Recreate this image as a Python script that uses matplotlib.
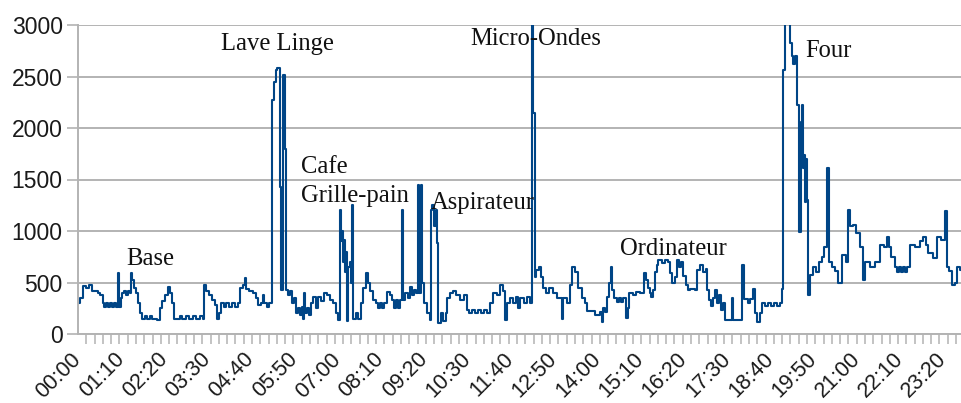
import matplotlib.pyplot as plt
from matplotlib.ticker import FixedLocator, FuncFormatter
import numpy as np

# puissance (W) relevee sur une journee, en paliers : minute du debut -> valeur
minutes = [
    0, 3, 8, 13, 18, 23, 32, 36, 40, 42, 45, 49,
    52, 55, 58, 61, 65, 66, 70, 71, 74, 78, 81, 84,
    86, 87, 91, 94, 97, 100, 104, 108, 112, 116, 120, 128,
    133, 136, 141, 146, 149, 152, 155, 165, 168, 175, 180, 186,
    191, 197, 202, 204, 207, 212, 217, 222, 225, 228, 231, 236,
    239, 244, 249, 254, 259, 262, 267, 270, 272, 277, 283, 288,
    291, 296, 299, 301, 306, 309, 314, 317, 320, 322, 326, 328,
    332, 335, 337, 340, 343, 346, 350, 353, 356, 359, 362, 364,
    366, 367, 371, 374, 377, 380, 385, 388, 393, 398, 403, 408,
    413, 417, 421, 424, 426, 427, 429, 430, 432, 434, 435, 437,
    440, 442, 443, 445, 450, 453, 458, 461, 466, 469, 472, 477,
    482, 485, 489, 492, 495, 500, 505, 508, 511, 515, 518, 521,
    524, 526, 529, 534, 537, 540, 544, 547, 550, 552, 555, 557,
    560, 565, 570, 571, 573, 576, 579, 581, 583, 587, 591, 595,
    597, 602, 607, 612, 618, 625, 629, 633, 637, 642, 647, 652,
    657, 662, 667, 671, 678, 683, 688, 691, 694, 699, 704, 709,
    712, 715, 722, 726, 731, 735, 736, 739, 741, 746, 749, 752,
    757, 762, 769, 775, 783, 785, 791, 796, 799, 804, 809, 815,
    820, 824, 837, 845, 848, 849, 853, 856, 859, 862, 864, 867,
    872, 875, 879, 882, 887, 890, 892, 898, 903, 909, 916, 919,
    922, 926, 927, 930, 934, 937, 938, 945, 950, 955, 958, 961,
    966, 969, 972, 976, 979, 984, 987, 990, 998, 1002, 1006, 1011,
    1016, 1018, 1021, 1024, 1027, 1031, 1034, 1037, 1040, 1044, 1047, 1058,
    1060, 1074, 1078, 1084, 1087, 1092, 1095, 1099, 1103, 1107, 1112, 1116,
    1121, 1126, 1131, 1136, 1139, 1141, 1144, 1152, 1155, 1157, 1160, 1163,
    1167, 1170, 1171, 1173, 1175, 1176, 1178, 1180, 1181, 1184, 1189, 1194,
    1199, 1204, 1207, 1212, 1215, 1220, 1225, 1230, 1236, 1243, 1246, 1249,
    1254, 1259, 1265, 1270, 1273, 1281, 1290, 1298, 1304, 1309, 1312, 1315,
    1322, 1325, 1328, 1332, 1335, 1338, 1341, 1346, 1354, 1362, 1367, 1372,
    1375, 1383, 1390, 1396, 1403, 1406, 1409, 1414, 1419, 1422, 1427, 1440,
]
watts = [
    300, 350, 470, 450, 480, 420, 400, 380, 300, 260, 300, 260,
    300, 260, 300, 260, 590, 260, 350, 400, 420, 380, 420, 400,
    590, 520, 450, 400, 300, 200, 150, 170, 150, 170, 150, 140,
    250, 320, 380, 460, 400, 300, 150, 170, 150, 170, 150, 170,
    150, 170, 150, 480, 420, 380, 330, 280, 150, 200, 300, 260,
    300, 260, 300, 260, 300, 450, 480, 540, 440, 420, 400, 350,
    280, 300, 380, 300, 260, 300, 2270, 2450, 2560, 2580, 1430, 430,
    2515, 1800, 430, 380, 420, 300, 350, 200, 250, 180, 260, 150,
    400, 200, 250, 180, 300, 360, 250, 360, 320, 400, 380, 330,
    300, 200, 136, 1200, 900, 1000, 700, 912, 600, 800, 130, 650,
    700, 500, 1250, 150, 200, 150, 300, 450, 590, 500, 420, 330,
    300, 250, 300, 250, 300, 410, 380, 330, 250, 330, 250, 330,
    1200, 330, 400, 350, 456, 380, 430, 400, 1450, 400, 1450, 500,
    300, 200, 136, 1200, 1250, 1050, 1200, 880, 107, 200, 130, 200,
    350, 400, 420, 380, 330, 380, 230, 200, 230, 200, 230, 200,
    230, 200, 300, 400, 380, 480, 420, 136, 300, 350, 300, 360,
    250, 350, 300, 360, 300, 3100, 2150, 550, 620, 650, 550, 450,
    400, 450, 400, 350, 150, 350, 300, 480, 650, 600, 450, 350,
    300, 220, 180, 215, 120, 250, 215, 360, 495, 650, 430, 350,
    310, 350, 310, 350, 155, 250, 400, 380, 410, 400, 590, 524,
    450, 400, 360, 430, 600, 670, 720, 690, 720, 700, 590, 500,
    550, 720, 650, 700, 560, 480, 430, 440, 430, 620, 670, 600,
    630, 430, 330, 270, 350, 430, 300, 380, 230, 300, 136, 350,
    136, 670, 340, 300, 340, 440, 200, 117, 200, 300, 270, 300,
    270, 300, 270, 300, 440, 2560, 3050, 2830, 2700, 2620, 2700, 2220,
    990, 2060, 2220, 1610, 1740, 1280, 1700, 1300, 380, 570, 650, 600,
    700, 750, 840, 1610, 700, 650, 610, 500, 770, 700, 1200, 1050,
    1060, 980, 840, 520, 700, 650, 700, 860, 840, 943, 840, 745,
    650, 600, 650, 600, 650, 600, 650, 860, 840, 900, 940, 860,
    790, 740, 940, 910, 1190, 650, 610, 475, 500, 650, 620, 620,
]
assert len(minutes) == len(watts)

appliances = ["Base", "Lave Linge", "Cafe", "Grille-pain", "Aspirateur",
              "Micro-Ondes", "Ordinateur", "Four"]
appliance_minute = [78, 231, 360, 360, 570, 634, 877, 1177]
appliance_watts = [670, 2757, 1560, 1282, 1214, 2806, 767, 2690]

tick_minutes = np.arange(0, 1401, 70)

fig = plt.figure(figsize=(9.62, 4.03), dpi=100)
ax = fig.add_axes([78 / 962, 1 - 334 / 403, 884 / 962, 309 / 403])

ax.plot(minutes, watts, drawstyle='steps-post', color='#004586', lw=1.5)

ax.set_xlim(0, 1430)
ax.set_ylim(0, 3000)
ax.set_yticks(np.arange(0, 3001, 500))
ax.grid(axis='y', color='#b3b3b3', lw=1.4)
ax.set_axisbelow(True)

for side in ['top', 'right']:
    ax.spines[side].set_visible(False)
for side in ['left', 'bottom']:
    ax.spines[side].set_color('#b3b3b3')
    ax.spines[side].set_linewidth(1.4)

ax.xaxis.set_major_locator(FixedLocator(tick_minutes))
ax.xaxis.set_major_formatter(FuncFormatter(lambda m, _: f"{int(m) // 60:02d}:{int(m) % 60:02d}"))
ax.xaxis.set_minor_locator(FixedLocator(np.arange(0, 1431, 13.4)))
ax.tick_params(axis='x', which='major', length=0, pad=16)
ax.tick_params(axis='x', which='minor', length=7, width=1.1, color='#b3b3b3')
ax.tick_params(axis='y', length=8, width=1.2, color='#b3b3b3', pad=3)

for lab in ax.get_xticklabels():
    lab.set_rotation(45)
    lab.set_ha('right')
    lab.set_va('center')
    lab.set_rotation_mode('anchor')
    lab.set_fontsize(15.5)
    lab.set_family('Liberation Sans')
    lab.set_color('#1a1a1a')
for lab in ax.get_yticklabels():
    lab.set_fontsize(16.5)
    lab.set_family('Liberation Sans')
    lab.set_color('#1a1a1a')

for name, m, w in zip(appliances, appliance_minute, appliance_watts):
    ax.text(m, w, name, family='Liberation Serif', fontsize=17.7,
            ha='left', va='baseline', color='#111111')

fig.savefig('out.png', dpi=100)
